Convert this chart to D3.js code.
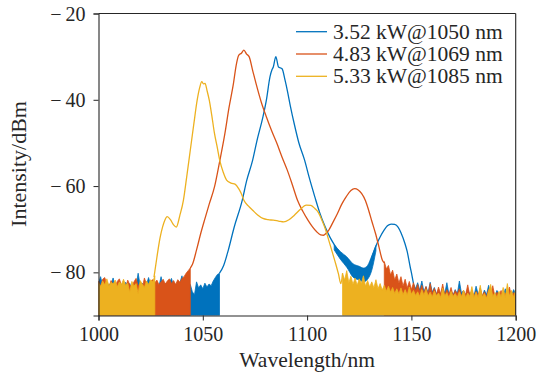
<!DOCTYPE html>
<html>
<head>
<meta charset="utf-8">
<script src="https://cdn.jsdelivr.net/npm/d3@7"></script>
<style>
  html, body { margin: 0; padding: 0; background: #fff; }
  svg text { font-family: "Liberation Serif", "DejaVu Serif", serif; fill: #262626; }
</style>
</head>
<body>
<svg id="chart" width="542" height="378"></svg>
<script>
// series labels and colours
const seriesNames = ["3.52 kW@1050 nm", "4.83 kW@1069 nm", "5.33 kW@1085 nm"];
const seriesColors = ["#0072BD", "#D95319", "#EDB120"];

const xTicks = [1000, 1050, 1100, 1150, 1200];
const yTicks = [-20, -40, -60, -80];

// main spectral curves (wavelength nm, intensity dBm)
const blueWl = [1058, 1060, 1062.2, 1065, 1068.9, 1071, 1073.9, 1076, 1078.8, 1080.5, 1082.2, 1083.2, 1083.8, 1085, 1086.3, 1088, 1089.4, 1090.5, 1092, 1093.8, 1096, 1098.8, 1101, 1103.7, 1106, 1108.7, 1111, 1113.7, 1116, 1118.7, 1121, 1123.7, 1125.5, 1127, 1128.5, 1129.5, 1131, 1132.8, 1135, 1136.9, 1138.5, 1140.3, 1142, 1143.6, 1145, 1146.9, 1148, 1149.4, 1150.3, 1151];
const blueDb = [-80.2, -78.4, -74.9, -69.6, -63.3, -58.8, -54.0, -49.4, -44.0, -40.0, -34.7, -33.0, -32.4, -30.0, -32.4, -32.8, -35.4, -37.8, -41.5, -45.5, -49.9, -54.0, -58.0, -62.5, -66.1, -69.5, -71.9, -74.1, -75.9, -77.2, -78.4, -79.5, -80.0, -80.3, -79.9, -78.7, -76.6, -74.1, -71.8, -70.2, -69.2, -68.8, -68.9, -69.5, -70.8, -73.3, -75.2, -78.7, -80.8, -82.6];

const orangeWl = [1044, 1045, 1047, 1049, 1051, 1053, 1055.6, 1058, 1060.6, 1062.5, 1064.7, 1066, 1067.2, 1068.5, 1069.7, 1071, 1072.2, 1074, 1075.5, 1078, 1080.5, 1083, 1085.5, 1088, 1090.5, 1093, 1095.4, 1098, 1100.4, 1102.5, 1104.6, 1106.5, 1107.9, 1109, 1110.4, 1112.5, 1114.5, 1116.5, 1118.7, 1121, 1122.8, 1124.5, 1126.1, 1128, 1129.5, 1131, 1132.8, 1134.5, 1136.1, 1137];
const orangeDb = [-79.0, -78.2, -74.8, -71.0, -67.6, -64.3, -60.2, -54.5, -47.8, -42.0, -36.2, -32.0, -29.7, -29.2, -28.5, -29.4, -30.0, -33.4, -36.2, -40.5, -44.0, -47.2, -50.1, -53.3, -56.3, -59.8, -63.3, -65.9, -67.9, -69.4, -70.6, -71.3, -71.4, -71.0, -70.2, -68.3, -66.4, -64.3, -62.5, -61.0, -60.6, -60.9, -61.7, -63.4, -65.6, -68.1, -71.0, -74.2, -77.2, -77.8];

const yellowWl = [1026.6, 1028, 1029.5, 1030.7, 1031.8, 1032.9, 1034.5, 1036, 1037.3, 1039, 1040.7, 1042.3, 1044, 1045.7, 1047.3, 1048.5, 1049.5, 1050.3, 1051.1, 1052, 1053.1, 1054.3, 1055.6, 1057, 1058.1, 1059.8, 1061.4, 1063.5, 1065.6, 1067.2, 1068.5, 1069.7, 1071.8, 1073.9, 1076.3, 1078.8, 1081.3, 1083.8, 1086.3, 1088.8, 1091.3, 1093.8, 1096.5, 1099.6, 1101.8, 1103.7, 1105.5, 1107.1, 1108.8, 1110.4, 1112, 1113.7, 1115, 1116.2, 1117];
const yellowDb = [-81.1, -76.5, -72.0, -69.5, -67.9, -67.1, -67.8, -69.0, -69.5, -66.8, -63.3, -57.8, -51.7, -45.6, -40.1, -37.2, -35.8, -36.3, -36.2, -37.8, -40.1, -43.6, -47.8, -51.2, -54.0, -56.8, -58.6, -59.3, -59.6, -60.6, -61.8, -63.3, -64.6, -65.6, -66.7, -67.5, -67.8, -67.9, -68.1, -68.3, -67.8, -66.8, -65.5, -64.4, -64.5, -65.2, -66.2, -67.9, -70.0, -72.6, -75.2, -78.0, -80.3, -82.6, -80.2];

// noisy stretch of the blue curve around its trough (upper / lower edge)
const blueBandWl = [1113, 1116, 1119, 1122, 1125, 1127, 1129, 1131, 1133];
const blueBandHi = [-73.6, -75.2, -76.4, -78.0, -78.6, -79.0, -78.4, -76.2, -73.8];
const blueBandLo = [-74.8, -77.0, -78.8, -81.1, -81.8, -82.2, -81.6, -79.5, -75.0];

// noise floor tops, one value per nm, from the given start wavelength
const blueNoiseLeftStart = 1000;
const blueNoiseLeft = [-82.6, -81.0, -83.1, -82.4, -83.5, -82.7, -83.0, -81.3, -83.4, -82.5, -83.2, -82.8, -83.9, -82.3, -83.3, -82.6, -84.0, -82.9, -83.2, -80.2, -83.1, -82.5, -83.6, -82.8, -81.2, -83.0, -82.6, -83.4, -82.7, -83.2, -81.0, -83.5, -82.6, -83.1, -82.4, -81.4, -83.3, -82.8, -83.6, -82.5, -80.8, -83.0, -82.4, -83.1, -82.8, -84.5, -85.2, -82.2, -83.6, -82.9, -83.8, -82.5, -83.4, -82.7, -83.1, -82.0, -81.2, -80.5, -80.2];
const blueNoiseRightStart = 1151;
const blueNoiseRight = [-82.6, -83.8, -82.4, -84.2, -82.0, -84.5, -83.3, -84.8, -82.3, -84.6, -83.5, -85.0, -84.1, -85.2, -83.6, -84.9, -82.4, -85.1, -84.3, -85.3, -84.0, -85.0, -82.0, -84.8, -84.2, -85.4, -83.9, -85.1, -84.4, -85.5, -83.2, -85.0, -84.6, -85.6, -84.1, -85.2, -83.0, -85.3, -84.7, -85.5, -84.2, -85.1, -84.8, -85.6, -83.8, -85.2, -84.5, -85.4, -84.0, -85.0];

const orangeNoiseLeftStart = 1000;
const orangeNoiseLeft = [-82.0, -83.2, -81.6, -81.2, -82.8, -83.5, -81.9, -82.9, -83.3, -82.1, -81.5, -83.0, -82.6, -83.7, -81.8, -82.9, -83.4, -82.2, -81.4, -83.1, -82.5, -83.6, -81.3, -82.7, -83.2, -82.0, -81.7, -82.4, -81.8, -82.9, -82.2, -81.6, -82.7, -82.0, -81.5, -82.6, -81.9, -82.8, -81.7, -82.3, -81.4, -81.0, -80.2, -79.6, -79.0];
const orangeNoiseRightStart = 1137;
const orangeNoiseRight = [-77.5, -79.2, -78.4, -80.6, -79.5, -81.8, -80.4, -82.5, -81.0, -83.2, -81.6, -83.6, -82.1, -84.0, -82.4, -84.3, -82.8, -84.5, -83.0, -84.8, -83.3, -85.0, -82.6, -84.9, -83.7, -85.2, -83.4, -85.0, -82.7, -85.3, -84.0, -85.1, -83.5, -85.4, -84.2, -85.0, -83.8, -85.5, -84.3, -85.2, -82.9, -85.4, -84.1, -85.6, -84.4, -85.3, -83.6, -85.5, -84.5, -85.7, -84.0, -85.4, -83.1, -85.6, -84.6, -85.3, -84.2, -85.7, -84.8, -85.5, -83.4, -85.6, -84.7, -85.2];

const yellowNoiseLeftStart = 1000;
const yellowNoiseLeft = [-82.4, -83.3, -82.0, -82.9, -81.5, -83.1, -82.3, -82.7, -81.8, -83.4, -82.2, -82.8, -81.6, -83.0, -82.5, -84.6, -82.1, -83.2, -82.6, -84.9, -81.9, -82.7, -83.5, -82.0, -82.8, -81.7, -82.2, -80.8];
const yellowNoiseRightStart = 1117;
const yellowNoiseRight = [-80.2, -81.8, -79.6, -82.4, -80.9, -82.8, -81.3, -83.0, -81.5, -82.6, -80.8, -83.2, -81.9, -83.4, -82.2, -83.6, -81.7, -83.8, -82.6, -84.1, -83.0, -84.4, -83.2, -84.6, -83.5, -84.9, -83.8, -85.0, -83.6, -85.2, -84.0, -85.3, -83.4, -85.1, -84.2, -85.4, -84.5, -85.6, -84.0, -85.3, -83.9, -85.5, -84.6, -85.7, -84.3, -85.4, -84.8, -85.8, -83.6, -85.5, -84.7, -85.9, -84.4, -85.6, -84.9, -85.8, -84.5, -85.7, -84.1, -85.9, -84.8, -85.6, -83.3, -85.8, -84.6, -85.9, -83.0, -85.7, -84.9, -86.0, -84.3, -82.8, -85.6, -84.7, -85.9, -84.4, -85.7, -83.5, -85.8, -82.6, -85.5, -84.2, -85.8, -84.0];

const svg = d3.select("#chart");
const width = 542;
const height = 378;
const margin = { top: 13.5, right: 26.3, bottom: 62.5, left: 98.5 };

const x = d3.scaleLinear()
  .domain([1000, 1200])
  .range([margin.left, width - margin.right]);

const y = d3.scaleLinear()
  .domain([-90, -20])
  .range([height - margin.bottom, margin.top]);

svg.append("defs").append("clipPath")
  .attr("id", "plot-clip")
  .append("rect")
  .attr("x", margin.left)
  .attr("y", margin.top)
  .attr("width", width - margin.left - margin.right)
  .attr("height", height - margin.top - margin.bottom);

const plot = svg.append("g").attr("clip-path", "url(#plot-clip)");

const toPoints = (wl, db) => wl.map((w, i) => ({ w, v: db[i] }));
const noisePoints = (start, vals) => vals.map((v, i) => ({ w: start + i, v }));

const line = d3.line()
  .x(d => x(d.w))
  .y(d => y(d.v))
  .curve(d3.curveMonotoneX);

const floorArea = d3.area()
  .x(d => x(d.w))
  .y0(y(-90))
  .y1(d => y(d.v));

const bandArea = d3.area()
  .x(d => x(d.w))
  .y0(d => y(d.lo))
  .y1(d => y(d.hi))
  .curve(d3.curveMonotoneX);

const series = [
  {
    color: seriesColors[0],
    curve: toPoints(blueWl, blueDb),
    noise: [noisePoints(blueNoiseLeftStart, blueNoiseLeft), noisePoints(blueNoiseRightStart, blueNoiseRight)],
    band: blueBandWl.map((w, i) => ({ w, hi: blueBandHi[i], lo: blueBandLo[i] }))
  },
  {
    color: seriesColors[1],
    curve: toPoints(orangeWl, orangeDb),
    noise: [noisePoints(orangeNoiseLeftStart, orangeNoiseLeft), noisePoints(orangeNoiseRightStart, orangeNoiseRight)],
    band: null
  },
  {
    color: seriesColors[2],
    curve: toPoints(yellowWl, yellowDb),
    noise: [noisePoints(yellowNoiseLeftStart, yellowNoiseLeft), noisePoints(yellowNoiseRightStart, yellowNoiseRight)],
    band: null
  }
];

// drawn in order so the later spectra sit on top, like the original plot
series.forEach(s => {
  const g = plot.append("g");

  s.noise.forEach(pts => {
    g.append("path")
      .datum(pts)
      .attr("d", floorArea)
      .attr("fill", s.color)
      .attr("stroke", s.color)
      .attr("stroke-width", 0.8);
  });

  if (s.band) {
    g.append("path")
      .datum(s.band)
      .attr("d", bandArea)
      .attr("fill", s.color)
      .attr("stroke", s.color)
      .attr("stroke-width", 0.8);
  }

  g.append("path")
    .datum(s.curve)
    .attr("d", line)
    .attr("fill", "none")
    .attr("stroke", s.color)
    .attr("stroke-width", 1.3)
    .attr("stroke-linejoin", "round");
});

// axes
const axisColor = "#262626";

const xAxis = svg.append("g")
  .attr("transform", `translate(0,${height - margin.bottom})`)
  .call(d3.axisBottom(x).tickValues(xTicks).tickSize(5).tickPadding(6).tickFormat(d3.format("d")));

const yAxis = svg.append("g")
  .attr("transform", `translate(${margin.left},0)`)
  .call(d3.axisLeft(y).tickValues(yTicks).tickSize(5).tickPadding(8)
    .tickFormat(d => "\u2212\u2009" + Math.abs(d)));

[xAxis, yAxis].forEach(a => {
  a.select(".domain").attr("stroke", axisColor).attr("stroke-width", 1.1);
  a.selectAll(".tick line").attr("stroke", axisColor).attr("stroke-width", 1);
  a.selectAll(".tick text")
    .attr("fill", axisColor)
    .style("font-family", "'Liberation Serif', serif")
    .style("font-size", "20px");
});
xAxis.selectAll(".tick text").attr("dy", "0.71em");
yAxis.selectAll(".tick text").attr("dy", "0.33em");

// box top and right
svg.append("line")
  .attr("x1", margin.left).attr("x2", width - margin.right)
  .attr("y1", margin.top).attr("y2", margin.top)
  .attr("stroke", axisColor).attr("stroke-width", 1.1);
svg.append("line")
  .attr("x1", width - margin.right).attr("x2", width - margin.right)
  .attr("y1", margin.top).attr("y2", height - margin.bottom)
  .attr("stroke", axisColor).attr("stroke-width", 1.1);

// axis titles
svg.append("text")
  .attr("x", (margin.left + width - margin.right) / 2)
  .attr("y", 367)
  .attr("text-anchor", "middle")
  .style("font-size", "21.5px")
  .text("Wavelength/nm");

svg.append("text")
  .attr("transform", "translate(26,164) rotate(-90)")
  .attr("text-anchor", "middle")
  .style("font-size", "22px")
  .text("Intensity/dBm");

// legend
const legend = svg.append("g")
  .attr("transform", "translate(296,31.7)");

const item = legend.selectAll("g")
  .data(seriesNames)
  .enter()
  .append("g")
  .attr("transform", (d, i) => `translate(0,${i * 22.3})`);

item.append("line")
  .attr("x1", 0).attr("x2", 31)
  .attr("y1", 0).attr("y2", 0)
  .attr("stroke", (d, i) => seriesColors[i])
  .attr("stroke-width", 1.3);

item.append("text")
  .attr("x", 37)
  .attr("y", 0)
  .attr("dy", "0.33em")
  .style("font-size", "21.5px")
  .text(d => d);
</script>
</body>
</html>
